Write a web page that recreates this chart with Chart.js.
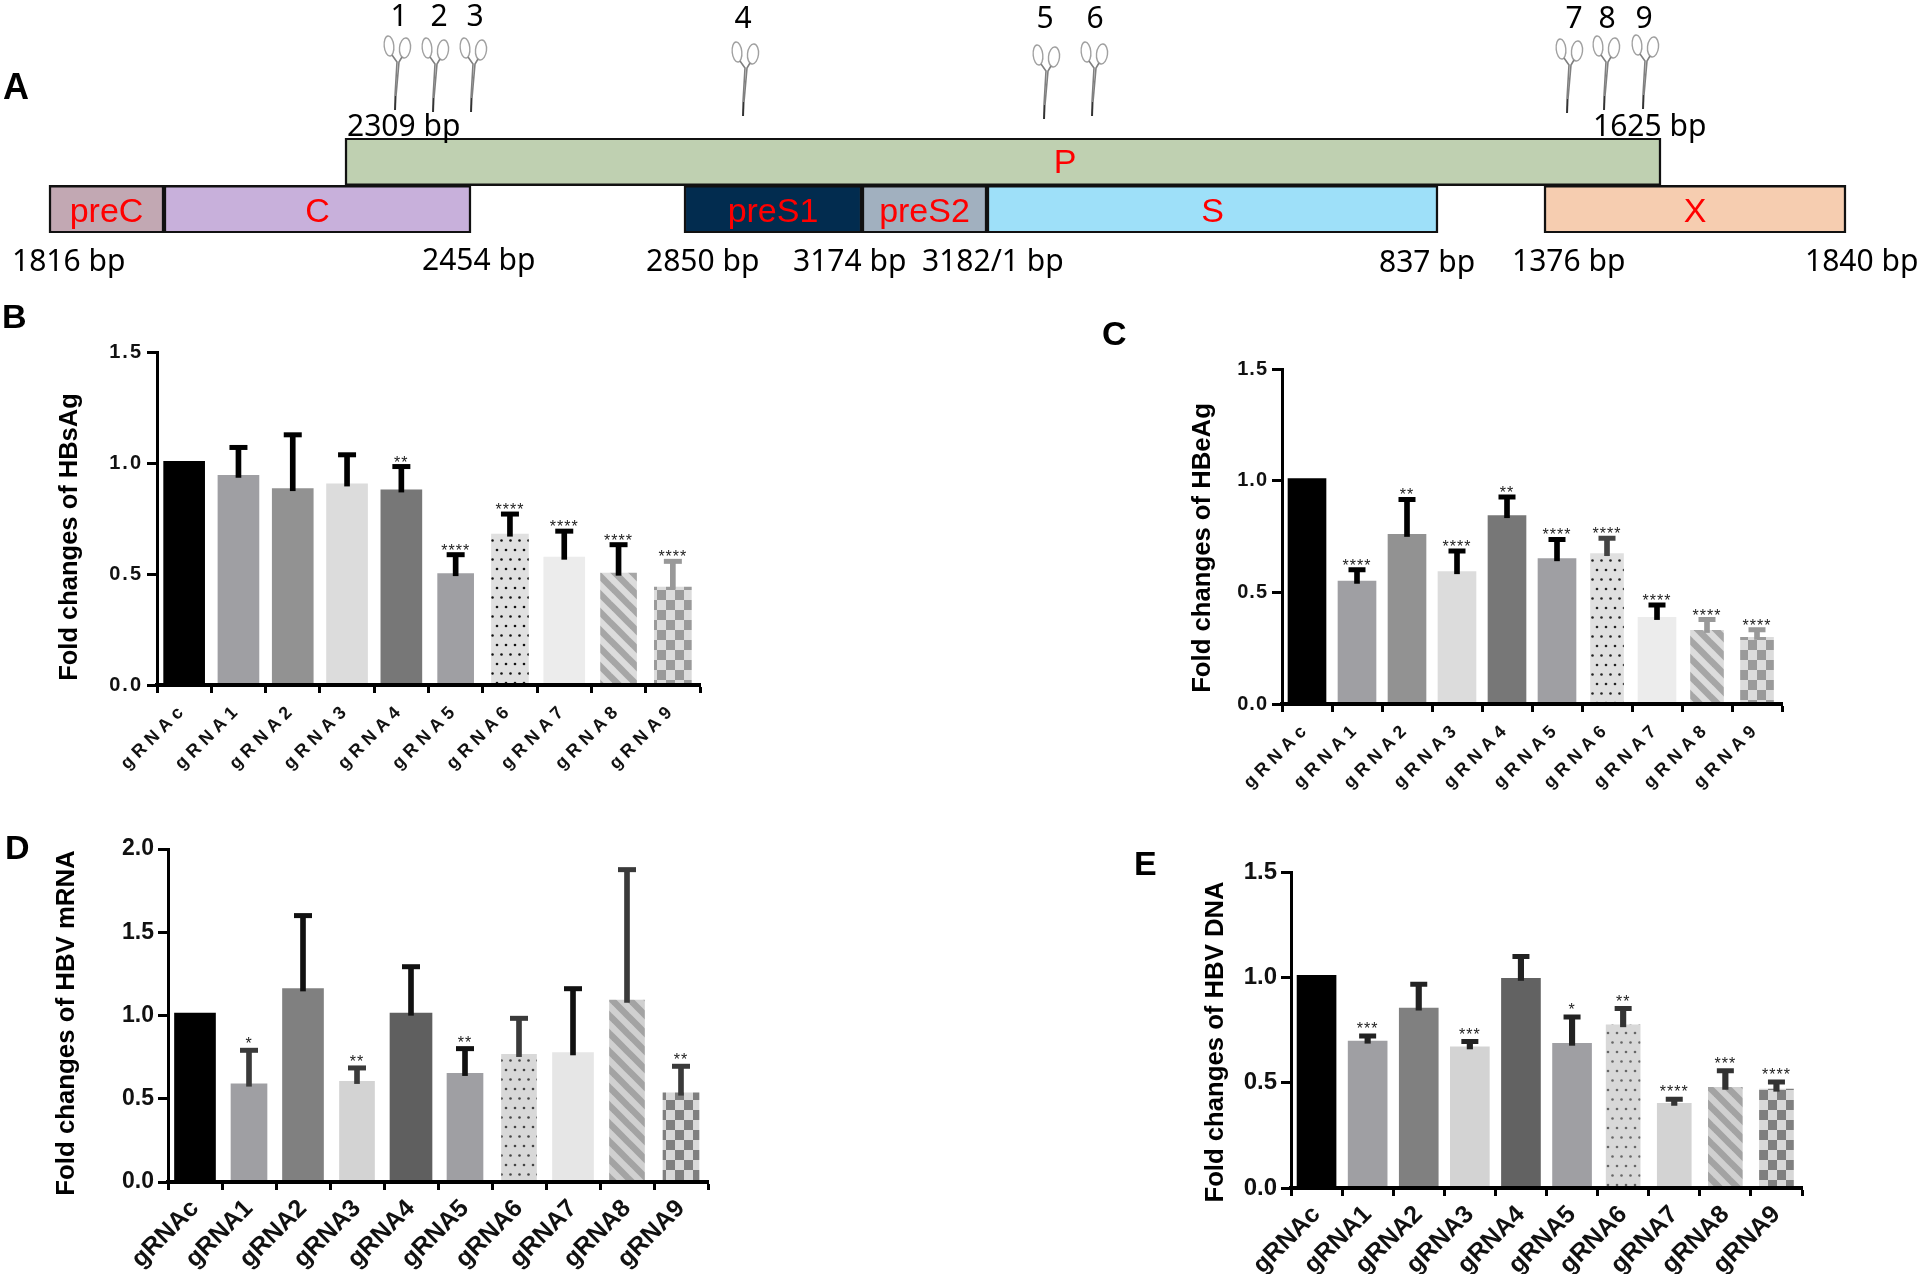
<!DOCTYPE html>
<html>
<head>
<meta charset="utf-8">
<title>gRNA fold changes</title>
<script src="https://cdn.jsdelivr.net/npm/chart.js@4"></script>
<style>
html, body { margin: 0; padding: 0; background: #fff; }
body { position: relative; width: 1920px; height: 1274px; overflow: hidden; }
canvas { position: absolute; }
</style>
</head>
<body>
<script>
// panel A, positions are along the schematic, not to scale in bp
const geneNames = ['preC', 'C', 'preS1', 'preS2', 'S', 'X'];
const geneStarts = [49, 164, 684, 862, 987, 1544];
const geneEnds = [164, 471, 862, 987, 1438, 1846];
const polStart = 345;
const polEnd = 1661;
const polNameAt = 1065;
const geneColors = ['#c2a8b3', '#c8b0db', '#022c4f', '#a1b0bf', '#9ee0f9', '#f6cdb0'];
const bpLabels = ['2309 bp', '1625 bp', '1816 bp', '2454 bp', '2850 bp', '3174 bp', '3182/1 bp', '837 bp', '1376 bp', '1840 bp'];
const bpLabelAt = [347, 1593, 12, 422, 646, 793, 922, 1379, 1512, 1805];
const bpLabelRow = [136, 136, 271, 270, 271, 271, 271, 272, 271, 271];
const cutSites = [395, 433, 471, 743, 1044, 1092, 1567, 1604, 1643];
const cutTips = [110, 112, 112, 116, 119, 116, 113, 110, 109];
const cutNames = ['1', '2', '3', '4', '5', '6', '7', '8', '9'];
const cutNameAt = [399, 439, 475, 743, 1045, 1095, 1574, 1607, 1644];

// panels B to E
const guides = ['gRNAc', 'gRNA1', 'gRNA2', 'gRNA3', 'gRNA4', 'gRNA5', 'gRNA6', 'gRNA7', 'gRNA8', 'gRNA9'];

const hbsagMeans = [1.008, 0.945, 0.885, 0.906, 0.879, 0.502, 0.68, 0.576, 0.504, 0.441];
const hbsagErrors = [null, 1.07, 1.127, 1.037, 0.984, 0.587, 0.77, 0.693, 0.632, 0.557];
const hbsagStars = ['', '', '', '', '**', '****', '****', '****', '****', '****'];

const hbeagMeans = [1.009, 0.55, 0.76, 0.593, 0.844, 0.651, 0.674, 0.388, 0.33, 0.299];
const hbeagErrors = [null, 0.601, 0.916, 0.685, 0.927, 0.737, 0.742, 0.443, 0.378, 0.332];
const hbeagStars = ['', '****', '**', '****', '**', '****', '****', '****', '****', '****'];

const mrnaMeans = [1.015, 0.589, 1.161, 0.605, 1.015, 0.653, 0.767, 0.777, 1.093, 0.535];
const mrnaErrors = [null, 0.791, 1.6, 0.685, 1.293, 0.801, 0.983, 1.161, 1.876, 0.695];
const mrnaStars = ['', '*', '', '**', '', '**', '', '', '', '**'];

const dnaMeans = [1.009, 0.697, 0.854, 0.67, 0.995, 0.687, 0.775, 0.402, 0.478, 0.469];
const dnaErrors = [null, 0.722, 0.967, 0.695, 1.099, 0.812, 0.852, 0.421, 0.557, 0.503];
const dnaStars = ['', '***', '', '***', '', '*', '**', '****', '***', '****'];

const SANS = '"Liberation Sans", Arial, sans-serif';
const LIGHT = '"Noto Sans", sans-serif';

function tile(w, h, paint) {
    const c = document.createElement('canvas');
    c.width = w; c.height = h;
    paint(c.getContext('2d'));
    return c.getContext('2d').createPattern(c, 'repeat');
}

function dots(bg, dot) {
    return tile(18, 19, g => {
        g.fillStyle = bg; g.fillRect(0, 0, 18, 19);
        g.fillStyle = dot;
        [[2, 3], [11, 3], [6.5, 12.5], [15.5, 12.5]].forEach(p => { g.beginPath(); g.arc(p[0], p[1], 1.3, 0, Math.PI * 2); g.fill(); });
    });
}

function stripes(bg, fg) {
    return tile(18, 18, g => {
        g.fillStyle = bg; g.fillRect(0, 0, 18, 18);
        g.strokeStyle = fg; g.lineWidth = 6.5;
        [-18, 0, 18].forEach(k => { g.beginPath(); g.moveTo(-4, -4 + k); g.lineTo(22, 22 + k); g.stroke(); });
    });
}

function checks(a, b) {
    return tile(18, 20, g => {
        g.fillStyle = a; g.fillRect(0, 0, 18, 20);
        g.fillStyle = b; g.fillRect(0, 0, 9, 10); g.fillRect(9, 10, 9, 10);
    });
}

function addCanvas(box) {
    const c = document.createElement('canvas');
    c.width = box.w; c.height = box.h;
    c.style.left = box.x + 'px';
    c.style.top = box.y + 'px';
    document.body.appendChild(c);
    return c;
}

function panelLetter(ctx, box, letter) {
    ctx.save();
    ctx.fillStyle = '#000';
    ctx.font = 'bold ' + letter.size + 'px ' + SANS;
    ctx.textAlign = 'left';
    ctx.textBaseline = 'alphabetic';
    ctx.fillText(letter.text, letter.x - box.x, letter.y - box.y);
    ctx.restore();
}

function scissors(ctx, x, y) {
    ctx.save();
    ctx.translate(x, y);
    ctx.strokeStyle = '#a0a0a0';
    ctx.lineWidth = 1.4;
    ctx.beginPath(); ctx.ellipse(-6, -64, 4.8, 10, -0.1, 0, Math.PI * 2); ctx.stroke();
    ctx.beginPath(); ctx.ellipse(10, -62, 5.5, 10, 0.1, 0, Math.PI * 2); ctx.stroke();
    ctx.strokeStyle = '#808080';
    ctx.lineWidth = 1.6;
    ctx.beginPath(); ctx.moveTo(-3, -55); ctx.lineTo(2, -48); ctx.lineTo(0, -14); ctx.stroke();
    ctx.beginPath(); ctx.moveTo(7, -53); ctx.lineTo(4, -48); ctx.lineTo(1, -14); ctx.stroke();
    ctx.strokeStyle = '#333';
    ctx.lineWidth = 2;
    ctx.beginPath(); ctx.moveTo(0.5, -14); ctx.lineTo(0, 0); ctx.stroke();
    ctx.restore();
}

// panel A: floating horizontal bars plus the labels round them
function drawMap() {
    const box = { x: 0, y: 0, w: 1920, h: 300 };
    const mapText = {
        id: 'mapText',
        afterDatasetsDraw(chart) {
            const ctx = chart.ctx, xs = chart.scales.x, ys = chart.scales.y;
            ctx.save();
            ctx.textBaseline = 'middle';
            ctx.textAlign = 'center';
            ctx.fillStyle = '#ff0000';
            ctx.font = '34px ' + SANS;
            geneNames.forEach((name, i) => {
                ctx.fillText(name, xs.getPixelForValue((geneStarts[i] + geneEnds[i]) / 2), ys.getPixelForValue('genes') + 3);
            });
            ctx.fillText('P', xs.getPixelForValue(polNameAt), ys.getPixelForValue('pol') + 2);
            ctx.fillStyle = '#000';
            ctx.textBaseline = 'alphabetic';
            ctx.textAlign = 'left';
            ctx.font = '30px ' + LIGHT;
            bpLabels.forEach((t, i) => ctx.fillText(t, xs.getPixelForValue(bpLabelAt[i]), bpLabelRow[i]));
            ctx.textAlign = 'center';
            cutNames.forEach((t, i) => ctx.fillText(t, xs.getPixelForValue(cutNameAt[i]), i < 3 ? 26 : 28));
            cutSites.forEach((s, i) => scissors(ctx, xs.getPixelForValue(s), cutTips[i]));
            ctx.restore();
            panelLetter(ctx, box, { text: 'A', x: 3, y: 99, size: 36 });
        }
    };
    new Chart(addCanvas(box), {
        type: 'bar',
        data: {
            labels: ['pol', 'genes'],
            datasets: [
                {
                    data: [{ x: [polStart, polEnd], y: 'pol' }],
                    backgroundColor: '#bfd0b1'
                },
                {
                    data: geneNames.map((n, i) => ({ x: [geneStarts[i], geneEnds[i]], y: 'genes' })),
                    backgroundColor: geneColors
                }
            ].map(d => Object.assign(d, { borderColor: '#111', borderWidth: 2.5, borderSkipped: false, barThickness: 48, grouped: false }))
        },
        options: {
            indexAxis: 'y',
            responsive: false,
            animation: false,
            devicePixelRatio: 1,
            layout: { autoPadding: false, padding: { top: 138, bottom: box.h - 233 } },
            plugins: { legend: { display: false }, tooltip: { enabled: false } },
            scales: {
                x: { display: false, min: 0, max: 1920 },
                y: { display: false }
            }
        },
        plugins: [mapText]
    });
}

// tick labels only get the wide letter spacing, the axis title does not
function spaceLabels(scale, spacing) {
    if (scale.spaced) return;
    scale.spaced = true;
    const draw = scale.drawLabels;
    scale.drawLabels = function (area) {
        scale.ctx.letterSpacing = spacing;
        draw.call(scale, area);
        scale.ctx.letterSpacing = '0px';
    };
}

function drawPanel(cfg) {
    const box = cfg.box, area = cfg.area;

    const bars = guides.map((g, i) => ({
        type: 'bar',
        data: guides.map((_, j) => (j === i ? cfg.means[i] : null)),
        backgroundColor: cfg.fills[i],
        barThickness: cfg.widths[i],
        grouped: false,
        order: 3
    }));
    const stems = {
        type: 'bar',
        data: cfg.errors.map((e, i) => (e === null ? null : [cfg.means[i] - cfg.stemDip, e])),
        backgroundColor: cfg.stemColors,
        barThickness: cfg.stemWidth,
        grouped: false,
        order: 2
    };
    const caps = {
        type: 'line',
        data: cfg.errors,
        showLine: false,
        pointStyle: 'line',
        pointRadius: cfg.capHalf,
        pointBorderWidth: 5,
        pointBorderColor: cfg.stemColors,
        order: 1
    };

    const panelText = {
        id: 'panelText',
        afterDatasetsDraw(chart) {
            const ctx = chart.ctx, xs = chart.scales.x, ys = chart.scales.y;
            ctx.save();
            ctx.fillStyle = '#222';
            ctx.textAlign = 'center';
            ctx.textBaseline = 'alphabetic';
            ctx.font = cfg.starSize + 'px ' + SANS;
            ctx.letterSpacing = '1px';
            cfg.stars.forEach((s, i) => {
                if (s) ctx.fillText(s, xs.getPixelForValue(i), ys.getPixelForValue(cfg.errors[i]) + cfg.starDrop);
            });
            ctx.letterSpacing = '0px';
            ctx.fillStyle = '#000';
            ctx.font = 'bold ' + cfg.title.size + 'px ' + SANS;
            ctx.translate(cfg.title.x - box.x, cfg.title.y - box.y);
            ctx.rotate(-Math.PI / 2);
            ctx.fillText(cfg.title.text, 0, 0);
            ctx.restore();
            panelLetter(ctx, box, cfg.letter);
        }
    };

    new Chart(addCanvas(box), {
        data: { labels: guides, datasets: bars.concat([stems, caps]) },
        options: {
            responsive: false,
            animation: false,
            devicePixelRatio: 1,
            layout: { autoPadding: false, padding: { top: area.top - box.y, right: box.x + box.w - area.right } },
            plugins: { legend: { display: false }, tooltip: { enabled: false } },
            scales: {
                x: {
                    offset: true,
                    afterFit(s) {
                        s.height = box.y + box.h - area.bottom;
                        s.paddingLeft = 0; s.paddingRight = 0;
                        s._margins.left = 0; s._margins.right = 0;
                        spaceLabels(s, cfg.xSpacing);
                    },
                    border: { color: '#000', width: 4, z: 1 },
                    grid: { drawOnChartArea: false, tickColor: '#000', tickWidth: 3, tickLength: 8 },
                    ticks: {
                        autoSkip: false, minRotation: 45, maxRotation: 45, padding: cfg.xPad, color: '#111',
                        font: { family: SANS, weight: 'bold', size: cfg.xSize }
                    }
                },
                y: {
                    min: 0,
                    max: cfg.yMax,
                    afterFit(s) { s.width = area.left - box.x; spaceLabels(s, cfg.ySpacing); },
                    border: { color: '#000', width: 3, z: 1 },
                    grid: { drawOnChartArea: false, tickColor: '#000', tickWidth: 3, tickLength: 10 },
                    ticks: {
                        stepSize: 0.5, padding: cfg.yPad, color: '#111',
                        callback: v => v.toFixed(1),
                        font: { family: SANS, weight: 'bold', size: cfg.ySize }
                    }
                }
            }
        },
        plugins: [panelText]
    });
}

const BL = '#000000';

drawMap();

drawPanel({
    box: { x: 0, y: 300, w: 702, h: 500 },
    area: { left: 157, right: 700, top: 352, bottom: 685 },
    yMax: 1.5, means: hbsagMeans, errors: hbsagErrors, stars: hbsagStars,
    fills: [BL, '#9f9fa3', '#929292', '#dcdcdc', '#777777', '#9f9fa3', dots('#e0e0e0', '#111'), '#ececec', stripes('#dcdcdc', '#a6a6a6'), checks('#dcdcdc', '#9a9a9a')],
    widths: [41, 41, 41, 41, 41, 36, 37, 41, 36, 37],
    stemColors: [BL, BL, BL, BL, BL, BL, BL, BL, BL, '#999999'],
    stemWidth: 5, capHalf: 9, stemDip: 0.01,
    starSize: 16, starDrop: 1,
    xSpacing: '5px', ySpacing: '2px', xSize: 18, xPad: 6, ySize: 20, yPad: 4,
    title: { text: 'Fold changes of HBsAg', x: 77, y: 537, size: 25.5 },
    letter: { text: 'B', x: 2, y: 328, size: 34 }
});

drawPanel({
    box: { x: 1100, y: 320, w: 684, h: 500 },
    area: { left: 1282, right: 1782, top: 369, bottom: 704 },
    yMax: 1.5, means: hbeagMeans, errors: hbeagErrors, stars: hbeagStars,
    fills: [BL, '#9f9fa3', '#929292', '#dcdcdc', '#777777', '#9f9fa3', dots('#e0e0e0', '#222'), '#ececec', stripes('#dcdcdc', '#a6a6a6'), checks('#dcdcdc', '#9a9a9a')],
    widths: [38, 38, 38, 38, 38, 38, 33, 38, 33, 33],
    stemColors: [BL, BL, BL, BL, BL, BL, '#444444', BL, '#999999', '#999999'],
    stemWidth: 5, capHalf: 8.5, stemDip: 0.01,
    starSize: 16, starDrop: 1,
    xSpacing: '5px', ySpacing: '1px', xSize: 18, xPad: 6, ySize: 20, yPad: 4,
    title: { text: 'Fold changes of HBeAg', x: 1210, y: 548, size: 25.7 },
    letter: { text: 'C', x: 1102, y: 345, size: 34 }
});

drawPanel({
    box: { x: 0, y: 820, w: 710, h: 454 },
    area: { left: 168, right: 708, top: 849, bottom: 1182 },
    yMax: 2, means: mrnaMeans, errors: mrnaErrors, stars: mrnaStars,
    fills: [BL, '#9f9fa3', '#808080', '#d3d3d3', '#5f5f5f', '#9f9fa3', dots('#d8d8d8', '#444'), '#e6e6e6', stripes('#d0d0d0', '#a3a3a3'), checks('#d8d8d8', '#7f7f7f')],
    widths: [41, 36, 41, 35, 42, 36, 35, 41, 35, 36],
    stemColors: [BL, '#3a3a3a', '#111111', '#3a3a3a', '#111111', '#111111', '#3a3a3a', '#111111', '#3a3a3a', '#3a3a3a'],
    stemWidth: 5, capHalf: 9, stemDip: 0.014,
    starSize: 16, starDrop: -1,
    xSpacing: '0px', ySpacing: '0px', xSize: 25, xPad: 4, ySize: 23, yPad: 4,
    title: { text: 'Fold changes of HBV mRNA', x: 74, y: 1023, size: 25.8 },
    letter: { text: 'D', x: 5, y: 859, size: 34 }
});

drawPanel({
    box: { x: 1120, y: 840, w: 684, h: 434 },
    area: { left: 1291, right: 1802, top: 872, bottom: 1188 },
    yMax: 1.5, means: dnaMeans, errors: dnaErrors, stars: dnaStars,
    fills: [BL, '#9f9fa3', '#808080', '#d3d3d3', '#626262', '#9f9fa3', dots('#d8d8d8', '#666'), '#d3d3d3', stripes('#d0d0d0', '#a3a3a3'), checks('#d8d8d8', '#7f7f7f')],
    widths: [39, 39, 39, 39, 39, 39, 34, 34, 34, 34],
    stemColors: ['#222222', '#222222', '#222222', '#222222', '#222222', '#222222', '#333333', '#333333', '#333333', '#333333'],
    stemWidth: 5.5, capHalf: 8.5, stemDip: 0.01,
    starSize: 16, starDrop: -2,
    xSpacing: '0px', ySpacing: '0px', xSize: 25, xPad: 4, ySize: 24, yPad: 4,
    title: { text: 'Fold changes of HBV DNA', x: 1223, y: 1042, size: 25.7 },
    letter: { text: 'E', x: 1134, y: 875, size: 34 }
});
</script>
</body>
</html>
